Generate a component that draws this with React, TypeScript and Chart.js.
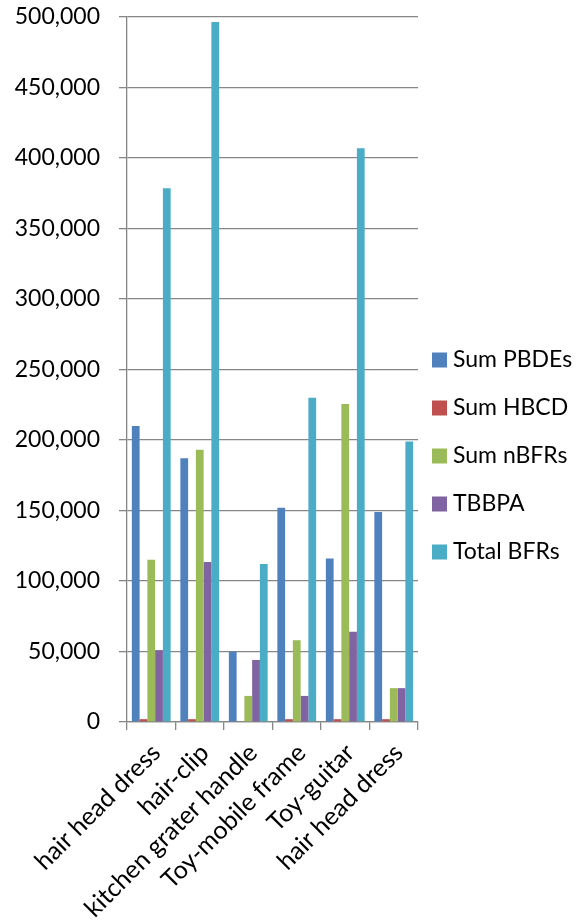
import React, { useEffect, useRef } from "react";
import { Chart, registerables } from "chart.js";
Chart.register(...registerables);

const categories = [
  "hair head dress",
  "hair-clip",
  "kitchen grater handle",
  "Toy-mobile frame",
  "Toy-guitar",
  "hair head dress",
];
const sumPBDEs = [210000, 187000, 50000, 152000, 116000, 149000];
const sumHBCD = [2000, 2000, 0, 2000, 2000, 2000];
const sumNBFRs = [115000, 193000, 18500, 58000, 225500, 24000];
const tbbpa = [51000, 113500, 44000, 18500, 64000, 24000];
const totalBFRs = [378500, 496500, 112000, 230000, 407000, 199000];

const seriesNames = ["Sum PBDEs", "Sum HBCD", "Sum nBFRs", "TBBPA", "Total BFRs"];
const seriesColors = ["#4F81BD", "#C0504D", "#9BBB59", "#8064A2", "#4BACC6"];
const seriesValues = [sumPBDEs, sumHBCD, sumNBFRs, tbbpa, totalBFRs];

const FONT = "Lato, 'Open Sans', sans-serif";
const GRID = "#868686";

const legendPlugin = {
  id: "sideLegend",
  afterDraw(chart: any) {
    const ctx = chart.ctx;
    const area = chart.chartArea;
    const ds = chart.data.datasets;
    const spacing = 48;
    const cy = chart.height / 2 - 5;
    const x = area.right + 14;
    ctx.save();
    ctx.font = `23px ${FONT}`;
    ctx.textBaseline = "middle";
    ctx.textAlign = "left";
    ds.forEach((d: any, i: number) => {
      const y = cy + (i - (ds.length - 1) / 2) * spacing;
      ctx.fillStyle = d.backgroundColor;
      ctx.fillRect(x, y - 7.5, 15, 15);
      ctx.fillStyle = "#000";
      ctx.fillText(d.label, x + 21, y);
    });
    ctx.restore();
  },
};

export default function App() {
  const ref = useRef<HTMLCanvasElement>(null);
  useEffect(() => {
    document.body.style.margin = "0";
    const chart = new Chart(ref.current!, {
      type: "bar",
      data: {
        labels: categories,
        datasets: seriesNames.map((name, i) => ({
          label: name,
          data: seriesValues[i],
          backgroundColor: seriesColors[i],
          borderWidth: 0,
          barPercentage: 1.0,
          categoryPercentage: 0.8,
        })),
      },
      options: {
        animation: false,
        responsive: true,
        maintainAspectRatio: false,
        layout: { padding: { top: 0, right: 159, left: 0, bottom: 0 } },
        plugins: {
          legend: { display: false },
          tooltip: { enabled: false },
        },
        scales: {
          y: {
            min: 0,
            max: 500000,
            ticks: {
              stepSize: 50000,
              font: { family: FONT, size: 23 },
              color: "#000",
              padding: 19,
              callback: (v: any) => Number(v).toLocaleString("en-US"),
            },
            grid: { color: GRID, lineWidth: 1.3, tickLength: 8 },
            border: { color: GRID, width: 1.3 },
            afterFit: (s: any) => {
              s.width = 127;
              s.paddingTop = 17;
              s.paddingBottom = 0;
            },
          },
          x: {
            offset: true,
            grid: {
              offset: true,
              drawOnChartArea: false,
              drawTicks: true,
              tickLength: 8,
              color: GRID,
              lineWidth: 1.3,
            },
            border: { color: GRID, width: 1.3 },
            ticks: {
              minRotation: 45,
              maxRotation: 45,
              autoSkip: false,
              font: { family: FONT, size: 25 },
              color: "#000",
              padding: 8,
              labelOffset: 5,
            },
            afterFit: (s: any) => {
              s.height = 200;
            },
          },
        },
      },
      plugins: [legendPlugin],
    });
    return () => chart.destroy();
  }, []);
  return (
    <div style={{ width: 577, height: 922, position: "relative", background: "#fff" }}>
      <canvas ref={ref} />
    </div>
  );
}
